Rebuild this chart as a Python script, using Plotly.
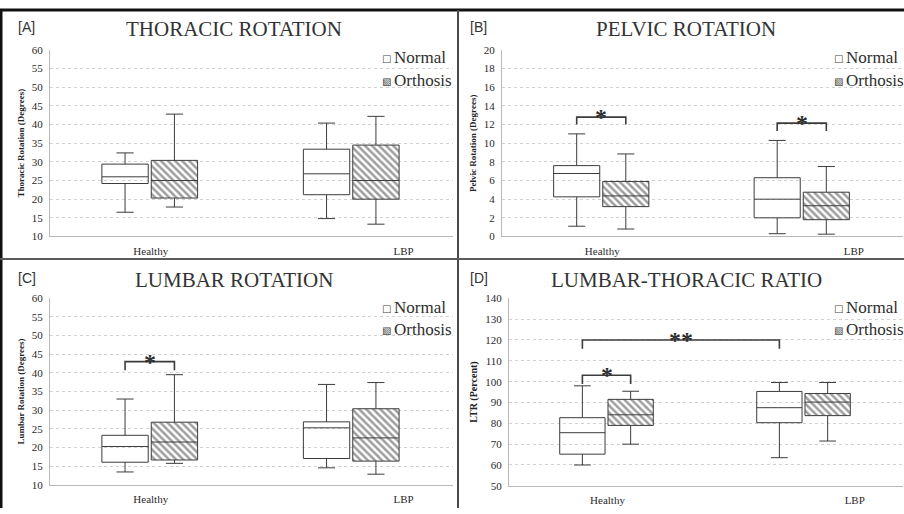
import plotly.graph_objects as go

W, H = 904, 514

# ---------------- data ----------------
groups = ["Healthy", "LBP"]
conditions = ["Normal", "Orthosis"]
panel_tags = ["[A]", "[B]", "[C]", "[D]"]
panel_titles = ["THORACIC ROTATION", "PELVIC ROTATION", "LUMBAR ROTATION", "LUMBAR-THORACIC RATIO"]
y_titles = ["Thoracic Rotation (Degrees)", "Pelvic Rotation (Degrees)",
            "Lumbar Rotation (Degrees)", "LTR (Percent)"]

# box statistics, one value per group [Healthy, LBP]
thoracic_normal = dict(low=[16.5, 14.8], q1=[24.2, 21.2], median=[26.0, 26.8], q3=[29.4, 33.4], high=[32.4, 40.4])
thoracic_orthosis = dict(low=[17.9, 13.3], q1=[20.3, 20.0], median=[25.0, 25.0], q3=[30.4, 34.5], high=[42.8, 42.2])

pelvic_normal = dict(low=[1.1, 0.3], q1=[4.25, 2.0], median=[6.75, 4.0], q3=[7.6, 6.3], high=[11.0, 10.3])
pelvic_orthosis = dict(low=[0.8, 0.25], q1=[3.2, 1.8], median=[4.35, 3.3], q3=[5.9, 4.75], high=[8.85, 7.5])

lumbar_normal = dict(low=[13.5, 14.6], q1=[16.1, 17.1], median=[20.3, 25.3], q3=[23.3, 26.9], high=[33.0, 36.9])
lumbar_orthosis = dict(low=[15.8, 12.9], q1=[16.7, 16.4], median=[21.5, 22.6], q3=[26.8, 30.4], high=[39.5, 37.4])

ltr_normal = dict(low=[60.0, 63.5], q1=[65.2, 80.3], median=[75.5, 87.5], q3=[82.7, 95.3], high=[98.0, 99.6])
ltr_orthosis = dict(low=[70.0, 71.5], q1=[79.0, 83.7], median=[84.1, 90.2], q3=[91.5, 94.3], high=[95.4, 99.6])

# y-axis ranges and steps
y_ranges = [(10, 60, 5), (0, 20, 2), (10, 60, 5), (50, 140, 10)]

# significance brackets: (group_a, cond_a, group_b, cond_b, level, drop, label)
thoracic_sig = []
pelvic_sig = [(0, 0, 0, 1, 12.8, 0.8, "*"), (1, 0, 1, 1, 12.15, 0.85, "*")]
lumbar_sig = [(0, 0, 0, 1, 43.0, 2.3, "*")]
ltr_sig = [(0, 0, 0, 1, 103.1, 4.2, "*"), (0, 0, 1, 0, 120.0, 4.2, "**")]

panels = [
    (thoracic_normal, thoracic_orthosis, thoracic_sig),
    (pelvic_normal, pelvic_orthosis, pelvic_sig),
    (lumbar_normal, lumbar_orthosis, lumbar_sig),
    (ltr_normal, ltr_orthosis, ltr_sig),
]

# ---------------- layout constants ----------------
group_center = [0.99, 2.99]
cond_offset = [-0.245, 0.245]
box_width = 0.46
tick_pos = [1.0, 3.51]

# plot areas in pixels: (left, right, top, bottom)
plot_px = [(50, 453, 45, 236), (502, 903, 45, 236), (50, 453, 299, 490.5), (509, 903, 299.3, 491.3)]
# panel origin for text (left, top)
panel_origin = [(0, 0), (452, 0), (0, 257), (452, 257)]

LINE = "#3c3c3c"
TXT = "#2a2a2a"
SERIF = "Liberation Serif, Times New Roman, serif"
SANS = "Liberation Sans, Arial, sans-serif"


def px(x):
    return x / W


def py(y):
    return 1 - y / H


def pos(g, c):
    return group_center[g] + cond_offset[c]


fig = go.Figure()
annotations = []
shapes = []

# hatched fills first (drawn below the box outlines)
for i, (nrm, ort, sig) in enumerate(panels):
    sfx = "" if i == 0 else str(i + 1)
    xs = [pos(g, 1) for g in range(len(groups))]
    fig.add_trace(go.Bar(
        x=xs, y=[b - a for a, b in zip(ort["q1"], ort["q3"])], base=ort["q1"], width=box_width,
        marker=dict(color="white", line=dict(width=0),
                    pattern=dict(shape="\\", fgcolor="#3e3e3e", bgcolor="white", size=5, solidity=0.5)),
        showlegend=False, hoverinfo="skip", xaxis="x" + sfx, yaxis="y" + sfx))

for i, (nrm, ort, sig) in enumerate(panels):
    sfx = "" if i == 0 else str(i + 1)
    for c, stats in enumerate([nrm, ort]):
        xs = [pos(g, c) for g in range(len(groups))]
        fig.add_trace(go.Box(
            x=xs, q1=stats["q1"], median=stats["median"], q3=stats["q3"],
            lowerfence=stats["low"], upperfence=stats["high"],
            width=box_width, whiskerwidth=0.37, boxpoints=False,
            line=dict(color=LINE, width=1), fillcolor="rgba(0,0,0,0)",
            name=conditions[c], showlegend=False, hoverinfo="skip",
            xaxis="x" + sfx, yaxis="y" + sfx))

    # significance brackets
    for (ga, ca, gb, cb, level, drop, label) in sig:
        xa, xb = pos(ga, ca), pos(gb, cb)
        shapes.append(dict(type="path", xref="x" + sfx, yref="y" + sfx,
                           path=f"M{xa},{level - drop} L{xa},{level} L{xb},{level} L{xb},{level - drop}",
                           line=dict(color=LINE, width=1.6)))
        annotations.append(dict(x=(xa + xb) / 2, y=level, xref="x" + sfx, yref="y" + sfx,
                                text="<b>" + label + "</b>", showarrow=False, yanchor="middle", yshift=0,
                                font=dict(family=SERIF, size=24, color="#2e2e2e")))

layout = dict(width=W, height=H, margin=dict(l=0, r=0, t=0, b=0),
              paper_bgcolor="white", plot_bgcolor="white", barmode="overlay", boxmode="overlay")

for i in range(4):
    sfx = "" if i == 0 else str(i + 1)
    l, r, t, b = plot_px[i]
    y0, y1, dy = y_ranges[i]
    layout["xaxis" + sfx] = dict(
        domain=[px(l), px(r)], range=[0, 4], anchor="y" + sfx,
        tickvals=tick_pos, ticktext=groups, showgrid=False, zeroline=False,
        showline=True, linecolor="#b8b8b8", linewidth=1, ticks="",
        ticklabelstandoff=4,
        tickfont=dict(family=SERIF, size=11, color=TXT))
    layout["yaxis" + sfx] = dict(
        domain=[py(b), py(t)], range=[y0, y1], dtick=dy, tick0=y0, anchor="x" + sfx,
        showgrid=True, gridcolor="#d2d2d2", griddash="dot", gridwidth=1, zeroline=False,
        showline=True, linecolor="#b8b8b8", linewidth=1, ticks="", ticklabelstandoff=4,
        tickfont=dict(family=SERIF, size=11, color=TXT),
        title=dict(text="<b>" + y_titles[i] + "</b>", standoff=5,
                   font=dict(family=SERIF, size=10 if i == 3 else 9, color="#222222")))

    ox, oy = panel_origin[i]
    # panel tag
    annotations.append(dict(x=px(ox + 16), y=py(oy + 22), xref="paper", yref="paper",
                            text=panel_tags[i], showarrow=False, xanchor="left", yanchor="middle",
                            font=dict(family=SANS, size=14, color="#333333")))
    # panel title
    annotations.append(dict(x=px(ox + 234), y=py(oy + 24), xref="paper", yref="paper",
                            text=panel_titles[i], showarrow=False, xanchor="center", yanchor="middle",
                            font=dict(family=SERIF, size=21, color="#333333")))
    # legend
    for c, glyph in enumerate(["\u25a1", "\u25a7"]):
        ly = oy + 53 + 23 * c - (1.5 if i >= 2 else 0)
        annotations.append(dict(x=px(ox + 386), y=py(ly + 1), xref="paper", yref="paper",
                                text=glyph, showarrow=False, xanchor="center", yanchor="middle",
                                font=dict(family="DejaVu Sans", size=10, color="#444444")))
        annotations.append(dict(x=px(ox + 392), y=py(ly), xref="paper", yref="paper",
                                text=conditions[c], showarrow=False, xanchor="left", yanchor="middle",
                                font=dict(family=SERIF, size=17, color="#2e2e2e")))

# frame lines
shapes += [
    dict(type="line", xref="paper", yref="paper", x0=0, x1=1, y0=py(4), y1=py(4),
         line=dict(color="#111111", width=3)),
    dict(type="line", xref="paper", yref="paper", x0=px(1), x1=px(1), y0=0, y1=py(4),
         line=dict(color="#111111", width=3)),
    dict(type="line", xref="paper", yref="paper", x0=px(458), x1=px(458), y0=0, y1=py(4),
         line=dict(color="#4a4a4a", width=2)),
    dict(type="line", xref="paper", yref="paper", x0=0, x1=1, y0=py(259), y1=py(259),
         line=dict(color="#5a5a5a", width=2)),
]

layout["annotations"] = annotations
layout["shapes"] = shapes
fig.update_layout(**layout)
fig.write_html("out.html")
